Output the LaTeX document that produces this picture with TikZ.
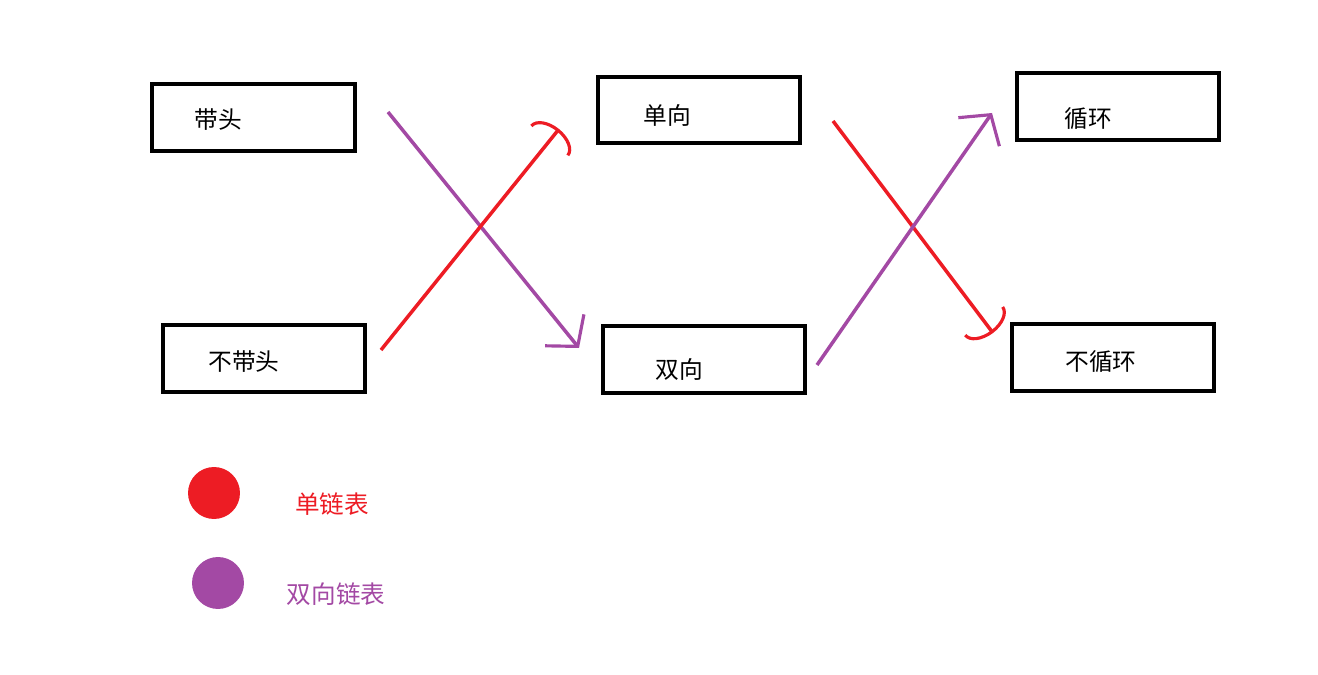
\documentclass[tikz,border=0pt]{standalone}
\usepackage{fontspec}
\setmainfont{Noto Sans CJK SC}
\usepackage{tikz}
\usetikzlibrary{arrows.meta,positioning}
\definecolor{cRed}{RGB}{237,28,36}
\definecolor{cPurple}{RGB}{163,73,164}
\begin{document}
\begin{tikzpicture}[
    x=0.02cm, y=-0.02cm,
    box/.style={rectangle,draw,line width=2.3pt,minimum width=4.05cm,minimum height=1.33cm,inner sep=0pt},
    txt/.style={font=\fontsize{13.5}{15}\selectfont,inner sep=0pt},
    legtxt/.style={font=\fontsize{14}{16}\selectfont,inner sep=0pt},
    redarr/.style={cRed,line width=2pt,-{Arc Barb[length=0.3cm,width=1.0cm,line width=1.8pt]}},
    purarr/.style={cPurple,line width=2pt,-{Straight Barb[length=0.42cm,width=1.0cm,line width=1.8pt]}},
    dot/.style={circle,inner sep=0pt,minimum size=1.04cm}
  ]
  \useasboundingbox (0,0) rectangle (1318,675);
  % Boxes
  \node[box] (head)   at (253.5,117.5) {};
  \node[box] (nohead) at (264,358.5) {};
  \node[box] (single) at (699,110) {};
  \node[box] (double) at (704,359.5) {};
  \node[box] (loop)   at (1118,106.5) {};
  \node[box] (noloop) at (1113,357.5) {};
  % Texts
  \node[txt] (headT)   at (218,120) {带头};
  \node[txt] (noheadT) at (244,362) {不带头};
  \node[txt] (singleT) at (667,115) {单向};
  \node[txt] (doubleT) at (679,369) {双向};
  \node[txt] (loopT)   at (1088,119) {循环};
  \node[txt] (noloopT) at (1101,362) {不循环};
  % Arrow ends
  \coordinate (a1) at (388,112);
  \coordinate (b1) at (579,348);
  \coordinate (a2) at (381,350);
  \coordinate (b2) at (559,129);
  \coordinate (a3) at (833,121);
  \coordinate (b3) at (993,333);
  \coordinate (a4) at (817,365);
  \coordinate (b4) at (992,113);
  % Arrows
  \draw[purarr] (a1) -- (b1);
  \draw[redarr] (a2) -- (b2);
  \draw[redarr] (a3) -- (b3);
  \draw[purarr] (a4) -- (b4);
  % Legend
  \node[dot,fill=cRed]    (redDot) at (214,493) {};
  \node[dot,fill=cPurple] (purDot) at (218,583) {};
  \node[legtxt,text=cRed]    (redT) at (332,504) {单链表};
  \node[legtxt,text=cPurple] (purT) at (336,594) {双向链表};
\end{tikzpicture}
\end{document}
